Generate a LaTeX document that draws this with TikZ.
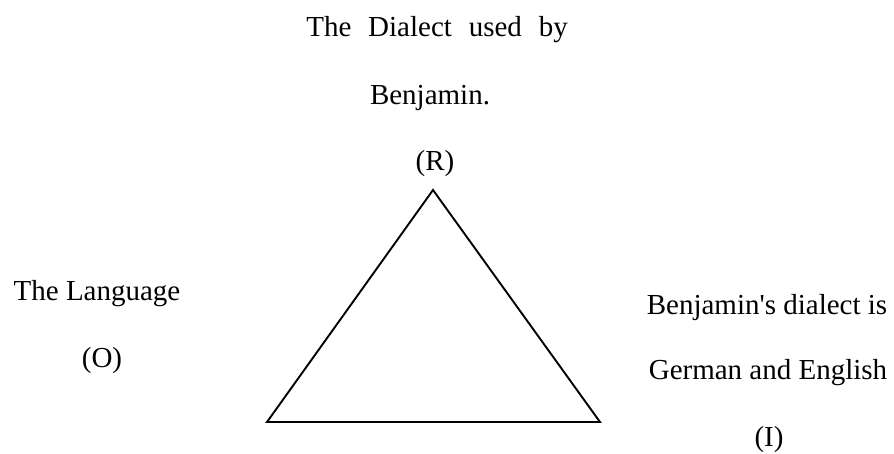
\documentclass[tikz,border=0pt]{standalone}
\usepackage{fontspec}
\setmainfont{Liberation Serif}[Ligatures=TeXOff]
\usetikzlibrary{positioning}
\tikzset{
  lbl/.style={
    anchor=base,
    inner sep=0pt,
    font=\fontsize{29}{33}\selectfont
  },
  side/.style={
    draw=black,
    line width=1.9pt,
    line join=miter
  }
}
\begin{document}
\begin{tikzpicture}[x=1pt,y=-1pt]
\useasboundingbox (0,0) rectangle (894,453);

% ---- Triangle corners ----
\coordinate (apex) at (433,190);
\coordinate (left) at (267,422);
\coordinate (right) at (600,422);

% ---- Top: representamen ----
\node[lbl] (dialect) at (437,36) {The\hspace{0.58em}Dialect\hspace{0.58em}used\hspace{0.58em}by};
\node[lbl] (benj) at (430,104) {Benjamin.};
\node[lbl] (rtag) at (435,170) {(R)};

% ---- Left: object ----
\node[lbl] (lang) at (97,300) {The Language};
\node[lbl] (otag) at (102,367) {(O)};

% ---- Right: interpretant ----
\node[lbl] (interp) at (767,314) {Benjamin's dialect is};
\node[lbl] (german) at (768,379) {German and English};
\node[lbl] (itag) at (769,446) {(I)};

% ---- Sides ----
\draw[side] (apex) -- (left) -- (right) -- cycle;
\end{tikzpicture}
\end{document}
